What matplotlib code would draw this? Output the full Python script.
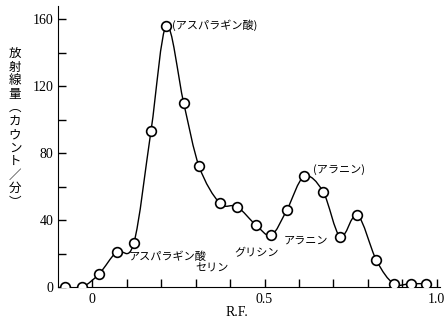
import matplotlib.pyplot as plt
import numpy as np
from matplotlib.path import Path
from matplotlib.patches import PathPatch

# Valeurs
rf = [-0.08, -0.03, 0.02, 0.07, 0.12, 0.17, 0.215, 0.265, 0.31, 0.37, 0.42,
      0.475, 0.52, 0.565, 0.615, 0.67, 0.72, 0.77, 0.825, 0.875, 0.925, 0.97]
comptage = [0, 0, 8, 21, 26, 93, 156, 110, 72, 50, 48,
            37, 31, 46, 66, 57, 30, 43, 16, 2, 2, 2]

yticks_maj = [0, 40, 80, 120, 160]
xticks_lab = [0, 0.5, 1.0]

jp = ["Noto Sans CJK JP", "DejaVu Sans"]
serif = "Liberation Serif"

fig = plt.figure(figsize=(4.48, 3.21), dpi=100)
ax = fig.add_axes([0.1295, 0.1059, 0.8527, 0.8766])

# courbe lissée (Catmull-Rom -> Bezier) passant par les points
pts = np.column_stack([rf, comptage]).astype(float)
verts = [pts[0]]
codes = [Path.MOVETO]
for i in range(len(pts) - 1):
    p0 = pts[i - 1] if i > 0 else pts[i]
    p1 = pts[i]
    p2 = pts[i + 1]
    p3 = pts[i + 2] if i + 2 < len(pts) else pts[i + 1]
    c1 = p1 + (p2 - p0) / 6
    c2 = p2 - (p3 - p1) / 6
    verts += [c1, c2, p2]
    codes += [Path.CURVE4] * 3
ax.add_patch(PathPatch(Path(verts, codes), fill=False, color="black", lw=1.0))

ax.plot(rf, comptage, linestyle="none", marker="o", markersize=7,
        markerfacecolor="white", markeredgecolor="black", markeredgewidth=1.2,
        zorder=3)

ax.set_xlim(-0.1, 1.01)
ax.set_ylim(0, 168)
ax.spines["top"].set_visible(False)
ax.spines["right"].set_visible(False)

ax.set_yticks(yticks_maj)
ax.set_yticks(np.arange(20, 161, 40), minor=True)
ax.set_xticks(np.arange(0, 1.01, 0.1), minor=True)
ax.set_xticks(xticks_lab)
ax.set_xticklabels(["0", "0.5", "1.0"], family=serif, fontsize=10)
ax.set_yticklabels([str(v) for v in yticks_maj], family=serif, fontsize=10)
ax.tick_params(which="both", direction="in", length=6, width=1)
ax.tick_params(axis="x", pad=4)

# textes
fig.text(237 / 448, 1 - 313 / 321, "R.F.", family=serif, fontsize=10,
         ha="center", va="center")
fig.text(15 / 448, 1 - 128 / 321, "\n".join("放射線量︵カウント／分︶"),
         family=jp, fontsize=9, ha="center", va="center", linespacing=1.05)

ax.annotate("(アスパラギン酸)", xy=(172 / 448, 1 - 25 / 321),
            xycoords="figure fraction", family=jp, fontsize=8, va="center")
ax.annotate("(アラニン)", xy=(313 / 448, 1 - 170 / 321),
            xycoords="figure fraction", family=jp, fontsize=8, va="center")
ax.annotate("アラニン", xy=(284 / 448, 1 - 241 / 321),
            xycoords="figure fraction", family=jp, fontsize=8, va="center")
ax.annotate("グリシン", xy=(234 / 448, 1 - 253 / 321),
            xycoords="figure fraction", family=jp, fontsize=8, va="center")
ax.annotate("アスパラギン酸", xy=(129 / 448, 1 - 257 / 321),
            xycoords="figure fraction", family=jp, fontsize=8, va="center")
ax.annotate("セリン", xy=(195 / 448, 1 - 269 / 321),
            xycoords="figure fraction", family=jp, fontsize=8, va="center")

plt.savefig("out.png", dpi=100)
